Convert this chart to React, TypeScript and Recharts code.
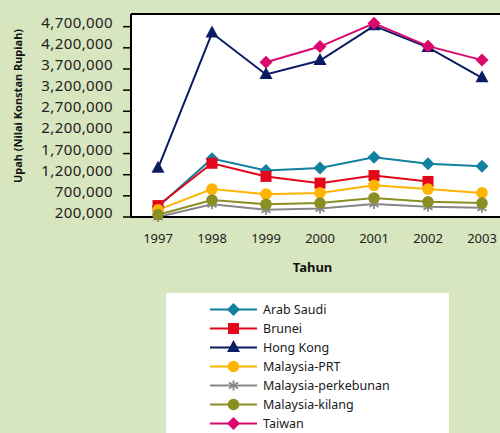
import React from "react";
import { LineChart, Line, XAxis, YAxis, CartesianGrid, ReferenceLine } from "recharts";

const years = [1997, 1998, 1999, 2000, 2001, 2002, 2003];
const yearBounds = [1996.5, 1997.5, 1998.5, 1999.5, 2000.5, 2001.5, 2002.5, 2003.5];
const yTicks = [200000, 700000, 1200000, 1700000, 2200000, 2700000, 3200000, 3700000, 4200000, 4700000];

const arabSaudi = [440000, 1580000, 1300000, 1360000, 1610000, 1460000, 1400000];
const brunei = [470000, 1470000, 1160000, 1000000, 1180000, 1040000, null];
const hongKong = [1350000, 4550000, 3570000, 3900000, 4720000, 4210000, 3490000];
const malaysiaPRT = [370000, 860000, 740000, 770000, 950000, 860000, 770000];
const malaysiaPerkebunan = [200000, 500000, 370000, 400000, 510000, 440000, 420000];
const malaysiaKilang = [255000, 600000, 500000, 530000, 650000, 560000, 530000];
const taiwan = [null, null, 3860000, 4230000, 4780000, 4240000, 3910000];

type Shape = "diamond" | "square" | "triangle" | "circle" | "star";

const series: { key: string; name: string; color: string; shape: Shape; values: (number | null)[] }[] = [
  { key: "arabSaudi", name: "Arab Saudi", color: "#12809f", shape: "diamond", values: arabSaudi },
  { key: "brunei", name: "Brunei", color: "#e2071b", shape: "square", values: brunei },
  { key: "hongKong", name: "Hong Kong", color: "#0b1c62", shape: "triangle", values: hongKong },
  { key: "malaysiaPRT", name: "Malaysia-PRT", color: "#ffb400", shape: "circle", values: malaysiaPRT },
  { key: "malaysiaPerkebunan", name: "Malaysia-perkebunan", color: "#868686", shape: "star", values: malaysiaPerkebunan },
  { key: "malaysiaKilang", name: "Malaysia-kilang", color: "#8a8f24", shape: "circle", values: malaysiaKilang },
  { key: "taiwan", name: "Taiwan", color: "#d9086f", shape: "diamond", values: taiwan },
];

const data = years.map((year, i) => {
  const row: Record<string, number | null> = { year };
  series.forEach((s) => {
    row[s.key] = s.values[i];
  });
  return row;
});

const FONT = "'Noto Sans', sans-serif";
const BG = "#d8e6c0";

function Marker({ shape, cx, cy, color }: { shape: Shape; cx: number; cy: number; color: string }) {
  switch (shape) {
    case "diamond":
      return <polygon points={`${cx},${cy - 6.5} ${cx + 6.5},${cy} ${cx},${cy + 6.5} ${cx - 6.5},${cy}`} fill={color} />;
    case "square":
      return <rect x={cx - 5.5} y={cy - 5.5} width={11} height={11} fill={color} />;
    case "triangle":
      return <polygon points={`${cx},${cy - 7.5} ${cx + 6.5},${cy + 4.5} ${cx - 6.5},${cy + 4.5}`} fill={color} />;
    case "circle":
      return <circle cx={cx} cy={cy} r={5.8} fill={color} />;
    default:
      return (
        <g stroke={color} strokeWidth={1.8}>
          <line x1={cx} y1={cy - 5} x2={cx} y2={cy + 5} />
          <line x1={cx - 4.5} y1={cy - 3} x2={cx + 4.5} y2={cy + 3} />
          <line x1={cx - 4.5} y1={cy + 3} x2={cx + 4.5} y2={cy - 3} />
        </g>
      );
  }
}

const YTick = ({ x, y, payload }: any) => (
  <text x={x} y={y - 5} textAnchor="end" dominantBaseline="central" fontFamily={FONT} fontSize={15} letterSpacing={0.4} fill="#222">
    {payload.value.toLocaleString("en-US")}
  </text>
);

const XTick = ({ x, y, payload }: any) => (
  <text x={x} y={y + 13} textAnchor="middle" dominantBaseline="central" fontFamily={FONT} fontSize={13} fill="#222">
    {payload.value}
  </text>
);

export default function App() {
  return (
    <div style={{ position: "fixed", left: 0, top: 0, width: 500, height: 433, overflow: "hidden", background: BG }}>
      <LineChart width={520} height={300} data={data} margin={{ top: 14, right: 11, left: 0, bottom: 45 }}>
        <CartesianGrid fill="#fff" horizontal={false} vertical={false} xAxisId="bounds" />
        <XAxis
          xAxisId="bounds"
          dataKey="year"
          type="number"
          domain={[1996.5, 2003.5]}
          ticks={yearBounds}
          interval={0}
          tick={false}
          tickSize={6}
          height={8}
          axisLine={{ stroke: "#000", strokeWidth: 2 }}
          tickLine={{ stroke: "#000", strokeWidth: 1.5 }}
        />
        <XAxis
          xAxisId="labels"
          dataKey="year"
          type="number"
          domain={[1996.5, 2003.5]}
          ticks={years}
          interval={0}
          tickSize={0}
          tickMargin={0}
          height={30}
          axisLine={false}
          tickLine={false}
          tick={<XTick />}
          label={{
            content: () => (
              <text x={312.5} y={267} textAnchor="middle" dominantBaseline="central" fontFamily={FONT} fontSize={13} fontWeight="bold" fill="#111">
                Tahun
              </text>
            ),
          }}
        />
        <YAxis
          type="number"
          domain={[200000, 5000000]}
          ticks={yTicks}
          interval={0}
          width={131}
          tickSize={8}
          tickMargin={10}
          axisLine={{ stroke: "#000", strokeWidth: 2 }}
          tickLine={{ stroke: "#000", strokeWidth: 1.5 }}
          tick={<YTick />}
          label={{
            content: () => (
              <text
                x={17}
                y={106}
                transform="rotate(-90 17 106)"
                textAnchor="middle"
                dominantBaseline="central"
                fontFamily={FONT}
                fontSize={11}
                fontWeight="bold"
                fill="#111"
              >
                Upah (Nilai Konstan Rupiah)
              </text>
            ),
          }}
        />
        <ReferenceLine xAxisId="bounds" y={5000000} stroke="#000" strokeWidth={2} />
        {series.map((s) => (
          <Line
            key={s.key}
            xAxisId="bounds"
            dataKey={s.key}
            name={s.name}
            stroke={s.color}
            strokeWidth={2}
            isAnimationActive={false}
            dot={(p: any) =>
              p.cy == null ? (
                <g key={`${s.key}-${p.index}`} />
              ) : (
                <Marker key={`${s.key}-${p.index}`} shape={s.shape} cx={p.cx} cy={p.cy} color={s.color} />
              )
            }
            activeDot={false}
          />
        ))}
      </LineChart>
      <div
        style={{
          position: "absolute",
          left: 166,
          top: 293,
          width: 283,
          height: 160,
          background: "#fff",
          paddingTop: 6.5,
          boxSizing: "border-box",
        }}
      >
        {series.map((s) => (
          <div key={s.key} style={{ display: "flex", alignItems: "center", height: 19.1, paddingLeft: 44 }}>
            <svg width={48} height={19} style={{ display: "block" }}>
              <line x1={0} y1={9.5} x2={47} y2={9.5} stroke={s.color} strokeWidth={2} />
              <Marker shape={s.shape} cx={23.5} cy={9.5} color={s.color} />
            </svg>
            <span style={{ marginLeft: 5, fontFamily: FONT, fontSize: 12.5, color: "#1a1a1a", whiteSpace: "nowrap" }}>{s.name}</span>
          </div>
        ))}
      </div>
    </div>
  );
}
